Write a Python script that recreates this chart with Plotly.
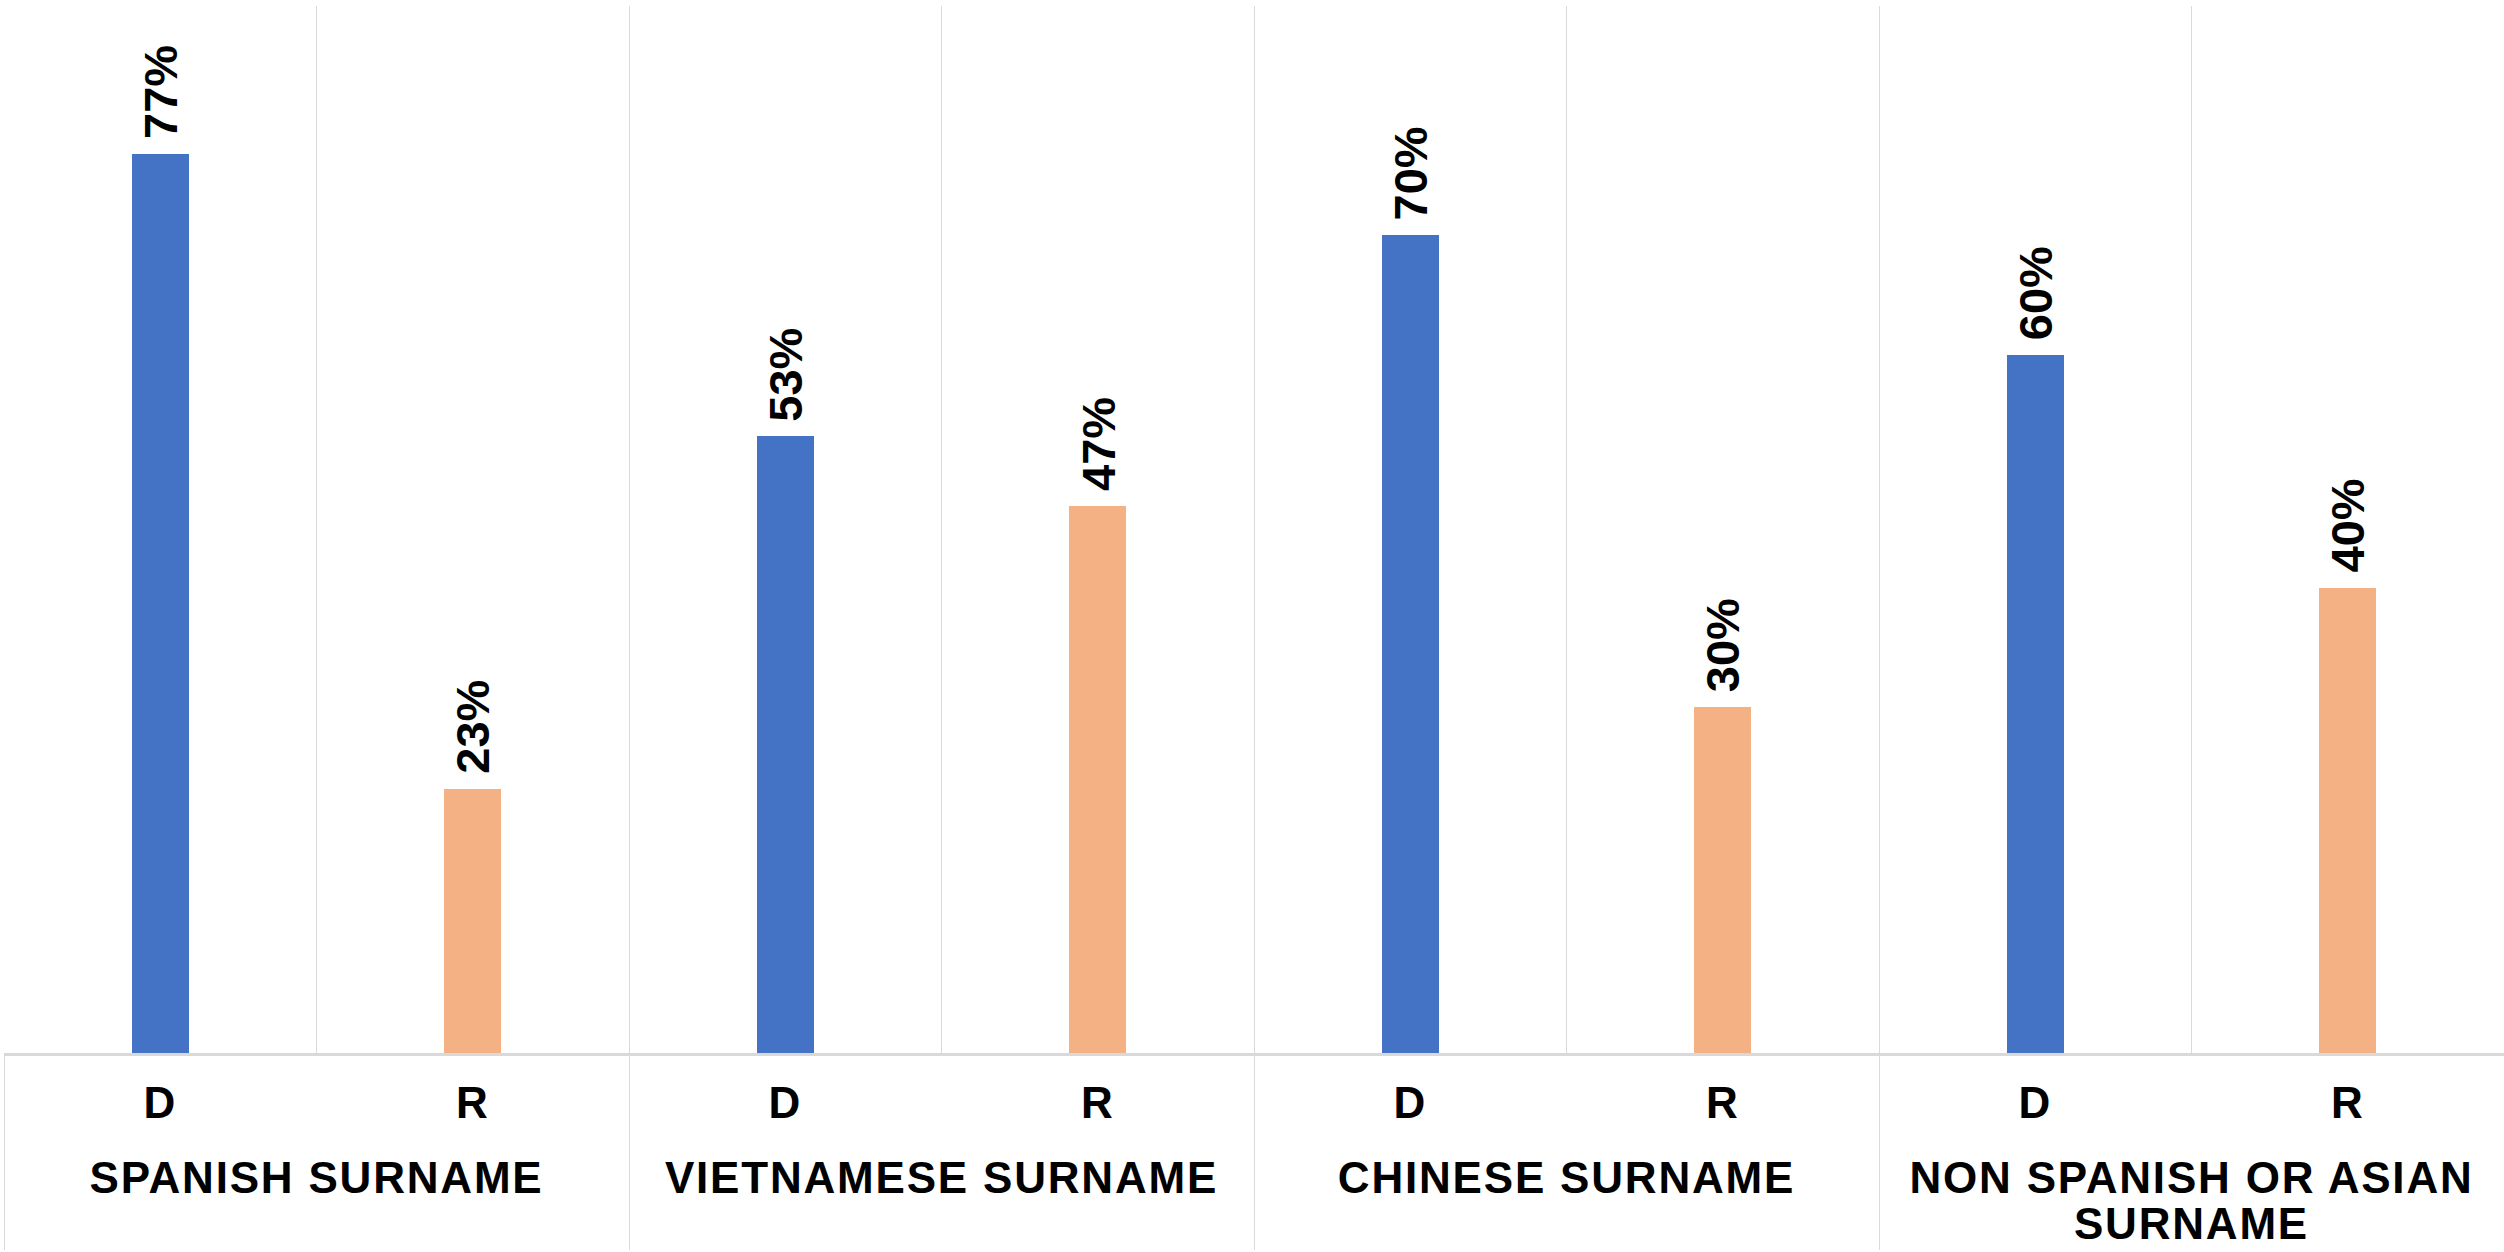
import plotly.graph_objects as go

groups = ["SPANISH SURNAME", "VIETNAMESE SURNAME", "CHINESE SURNAME", "NON SPANISH OR ASIAN<br>SURNAME"]
parties = ["D", "R"]
d_values = [0.773, 0.53, 0.703, 0.60]
r_values = [0.227, 0.47, 0.297, 0.40]
party_colors = {"D": "#4472C4", "R": "#F4B183"}

LBL = "font-size:44px;letter-spacing:1.8px"
SPACER = "<span style='font-size:83px'>&nbsp;</span>"


def outer_label(g):
    return "<br>".join(f"<span style='{LBL}'>{part}</span>" for part in g.split("<br>"))


def inner_label(p):
    return f"{SPACER}<span style='{LBL}'>{p}</span>{SPACER}"


x_outer, x_inner, vals, cols = [], [], [], []
for g, dv, rv in zip(groups, d_values, r_values):
    for p, v in zip(parties, [dv, rv]):
        x_outer.append(outer_label(g))
        x_inner.append(inner_label(p))
        vals.append(v)
        cols.append(party_colors[p])

fig = go.Figure()
fig.add_trace(go.Bar(
    x=[x_outer, x_inner], y=vals,
    marker=dict(color=cols, line=dict(width=0)),
    width=0.182,
    hoverinfo="skip",
))

for i, v in enumerate(vals):
    fig.add_annotation(
        x=i, y=v, xref="x", yref="y",
        text=f"{round(v*100)}%", textangle=-90,
        showarrow=False, yanchor="bottom", xanchor="center",
        yshift=13,
        font=dict(family="Liberation Sans, Arial", size=47, color="black", weight="bold"),
    )

fig.update_layout(
    width=2504, height=1252,
    margin=dict(l=4, r=0, t=6, b=199),
    plot_bgcolor="white", paper_bgcolor="white",
    showlegend=False,
    bargap=0,
)
fig.update_xaxes(
    type="multicategory",
    showgrid=True, gridcolor="#d9d9d9", gridwidth=1.3,
    tickson="boundaries",
    showdividers=True, dividercolor="#d9d9d9", dividerwidth=1.3,
    showline=True, linecolor="#d9d9d9", linewidth=2.5,
    ticks="",
    ticklabelstandoff=20,
    tickfont=dict(family="Liberation Sans, Arial", size=35.4, color="black", weight="bold"),
)
fig.update_yaxes(range=[0, 0.9], showgrid=False, zeroline=False, showticklabels=False, showline=False)

fig.write_html("out.html", config={"displayModeBar": False},
               post_script="document.body.style.margin='0';document.body.style.overflow='hidden';")
